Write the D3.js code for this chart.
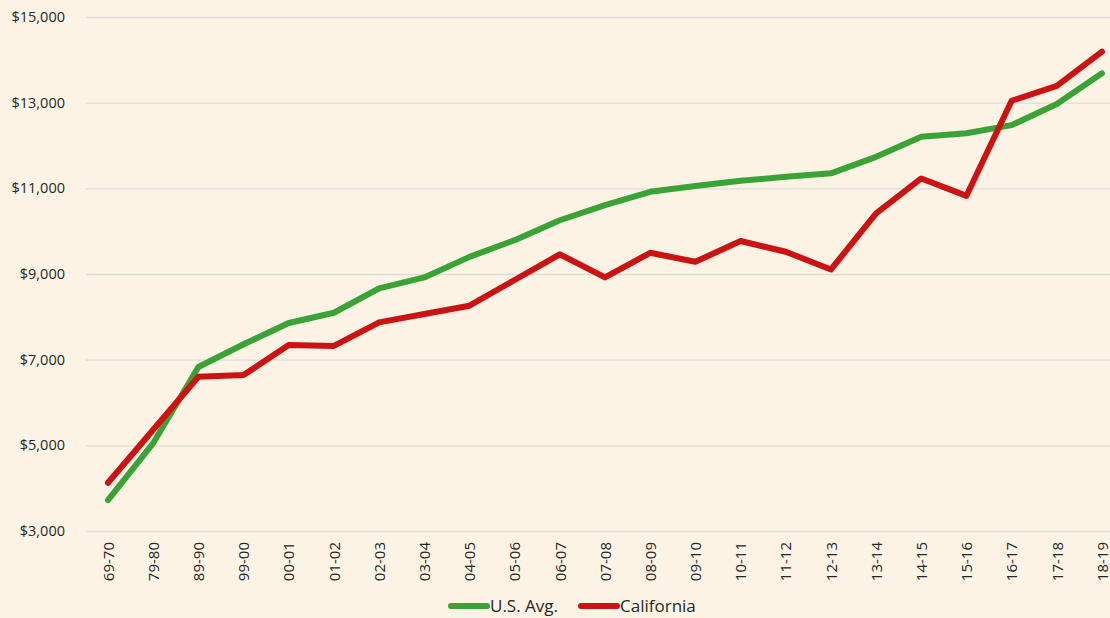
<!DOCTYPE html>
<html>
<head>
<meta charset="utf-8">
<script src="https://cdn.jsdelivr.net/npm/d3@7"></script>
<style>
  body { margin: 0; background: #fcf3e5; }
  svg { display: block; }
  svg text { font-family: "Open Sans", "Noto Sans", sans-serif; }
</style>
</head>
<body>
<div id="chart"></div>
<script>
const years = ["69-70","79-80","89-90","99-00","00-01","01-02","02-03","03-04","04-05","05-06",
  "06-07","07-08","08-09","09-10","10-11","11-12","12-13","13-14","14-15","15-16","16-17","17-18","18-19"];
const usAvg = [3720, 5050, 6830, 7360, 7855, 8095, 8665, 8920, 9400, 9790,
  10255, 10610, 10920, 11055, 11175, 11270, 11350, 11735, 12205, 12285, 12475, 12970, 13685];
const california = [4125, 5365, 6600, 6640, 7340, 7320, 7870, 8065, 8260, 8860,
  9460, 8920, 9495, 9285, 9770, 9520, 9105, 10415, 11230, 10825, 13045, 13390, 14190];
const yTicks = [3000, 5000, 7000, 9000, 11000, 13000, 15000];

const width = 1110;
const height = 618;

const svg = d3.select("#chart")
              .append("svg")
              .attr("width", width)
              .attr("height", height);

svg.append("rect")
   .attr("width", width)
   .attr("height", height)
   .attr("fill", "#fcf3e5");

// Scaling
const xScale = d3.scalePoint()
                 .domain(years)
                 .range([108, 1102]);

const yScale = d3.scaleLinear()
                 .domain([3000, 15000])
                 .range([531, 17]);

// Gridlines + y labels
const yAxis = svg.append("g")
                 .attr("transform", "translate(86,0)")
                 .call(d3.axisLeft(yScale)
                         .tickValues(yTicks)
                         .tickSize(-(width - 86))
                         .tickPadding(21)
                         .tickFormat(d => "$" + d3.format(",")(d)));
yAxis.select(".domain").remove();
yAxis.selectAll(".tick line")
     .attr("stroke", "#dcdcdc")
     .attr("stroke-width", 1.3);
yAxis.selectAll(".tick text")
     .attr("fill", "#262626")
     .style("font-size", "14.5px");

// X labels
const xAxis = svg.append("g")
                 .attr("transform", "translate(0,531)")
                 .call(d3.axisBottom(xScale).tickSize(0));
xAxis.select(".domain").remove();
xAxis.selectAll(".tick text")
     .attr("transform", "rotate(-90)")
     .attr("text-anchor", "end")
     .attr("x", -11)
     .attr("y", 0)
     .attr("dy", "0.35em")
     .attr("fill", "#262626")
     .style("font-size", "15px");

// Lines
const series = [
  { name: "U.S. Avg.", values: usAvg, color: "#3aa336" },
  { name: "California", values: california, color: "#cc1313" }
];

const line = d3.line()
               .x((d, i) => xScale(years[i]))
               .y(d => yScale(d));

series.forEach(s => {
  svg.append("path")
     .datum(s.values)
     .attr("d", line)
     .attr("fill", "none")
     .attr("stroke", s.color)
     .attr("stroke-width", 6)
     .attr("stroke-linejoin", "round")
     .attr("stroke-linecap", "round");
});

// Legend
const legend = svg.append("g").attr("transform", "translate(451,606)");
const legendX = [0, 130];
series.forEach((s, i) => {
  const g = legend.append("g").attr("transform", `translate(${legendX[i]},0)`);
  g.append("line")
   .attr("x1", 0).attr("x2", 36)
   .attr("stroke", s.color)
   .attr("stroke-width", 6)
   .attr("stroke-linecap", "round");
  g.append("text")
   .attr("x", 39)
   .attr("dy", "0.35em")
   .attr("fill", "#262626")
   .style("font-size", "17px")
   .text(s.name);
});
</script>
</body>
</html>
